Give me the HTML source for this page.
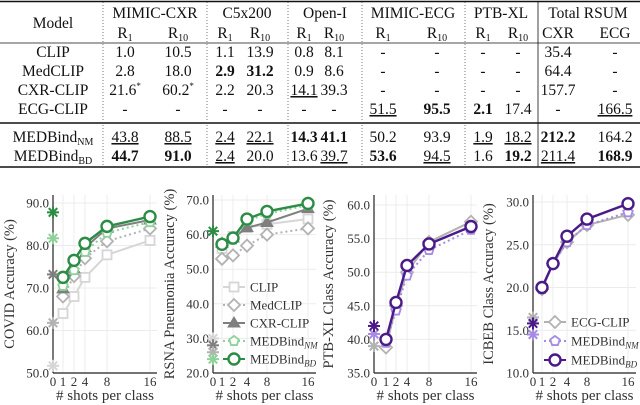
<!DOCTYPE html>
<html><head><meta charset="utf-8"><style>
body{margin:0;background:#fff}
svg{display:block;font-family:"Liberation Serif",serif}
.u{text-decoration:underline}
</style></head><body>
<svg id="fig" width="640" height="405" viewBox="0 0 640 405" xmlns="http://www.w3.org/2000/svg">
<g id="table" font-size="15.5" text-anchor="middle" fill="#111"></g>
<g id="charts"></g>
</svg>
<script>
const NS="http://www.w3.org/2000/svg";
function mk(p,t,a){const e=document.createElementNS(NS,t);for(const k in a)e.setAttribute(k,a[k]);p.appendChild(e);return e;}
// ---- table ----
const T=document.getElementById('table');
const colX=[53,125,178,225,260,304,334,383,437,483,518,558,615];
const rowY=[57,76,95,114,142,161];
const modelNames=[["CLIP",""],["MedCLIP",""],["CXR-CLIP",""],["ECG-CLIP",""],["MEDBind","NM"],["MEDBind","BD"]];
const cells=[
["1.0","10.5","1.1","13.9","0.8","8.1","-","-","-","-","35.4","-"],
["2.8","18.0","*2.9","*31.2","0.9","8.6","-","-","-","-","64.4","-"],
["21.6^","60.2^","2.2","20.3","_14.1","39.3","-","-","-","-","157.7","-"],
["-","-","-","-","-","-","_51.5","*95.5","*2.1","17.4","-","_166.5"],
["_43.8","_88.5","_2.4","_22.1","*14.3","*41.1","50.2","93.9","_1.9","_18.2","*212.2","164.2"],
["*44.7","*91.0","_2.4","20.0","13.6","_39.7","*53.6","_94.5","1.6","*19.2","_211.4","*168.9"]];
mk(T,'line',{x1:0,x2:640,y1:1.5,y2:1.5,stroke:'#111','stroke-width':1.5});
mk(T,'line',{x1:0,x2:640,y1:43,y2:43,stroke:'#111','stroke-width':0.8});
mk(T,'line',{x1:0,x2:640,y1:123,y2:123,stroke:'#111','stroke-width':1.5});
mk(T,'line',{x1:0,x2:640,y1:167,y2:167,stroke:'#111','stroke-width':1.5});
[103,207,288,362,465].forEach(x=>mk(T,'line',{x1:x,x2:x,y1:2,y2:167,stroke:'#555','stroke-width':0.8,'stroke-dasharray':'1,2'}));
mk(T,'line',{x1:538,x2:538,y1:2,y2:167,stroke:'#111','stroke-width':0.8});
let h=mk(T,'text',{x:53,y:28});h.textContent="Model";
[["MIMIC-CXR",155],["C5x200",247],["Open-I",325],["MIMIC-ECG",413],["PTB-XL",501],["Total RSUM",588]].forEach(g=>{const t=mk(T,'text',{x:g[1],y:18});t.textContent=g[0];

});
for(let i=1;i<=10;i++){const t=mk(T,'text',{x:colX[i],y:38});t.innerHTML='R<tspan font-size="10" dy="3">'+(i%2?'1':'10')+'</tspan>';}
const t1=mk(T,'text',{x:558,y:38});t1.textContent='CXR';const t2=mk(T,'text',{x:615,y:38});t2.textContent='ECG';
rowY.forEach((y,r)=>{
 const m=mk(T,'text',{x:53,y:y});m.innerHTML=modelNames[r][0]+(modelNames[r][1]?'<tspan font-size="10" dy="3">'+modelNames[r][1]+'</tspan>':'');
 
 
 cells[r].forEach((c,j)=>{let s=c,a={x:colX[j+1],y:y};
  const t=mk(T,'text',a);
  if(s[0]=='*'){s=s.slice(1);t.setAttribute('font-weight','bold');}
  if(s[0]=='_'){s=s.slice(1);t.setAttribute('class','u');}
  if(s.endsWith('^')){s=s.slice(0,-1);t.innerHTML=s+'<tspan font-size="9" dy="-6">*</tspan>';}else t.textContent=s;
 });
});
// ---- chart data ----
const shots=[1,2,4,8,16];
const xTicks=[0,1,2,4,8,16];
// COVID
const covidZero=[51.7,61.8,73.2,81.7,87.8];
const covidCLIP=[64,68,72.5,77.8,81.2];
const covidMed=[68,72.8,77,81,84];
const covidCXR=[69.8,74.5,79.5,84,86];
const covidNM=[70.5,74.2,78.5,83,85.5];
const covidBD=[72.5,76.5,80.5,84.5,86.8];
const covidTicks=[50,60,70,80,90];
// RSNA
const rsnaZero=[30,28,26,24,61];
const rsnaCLIP=[56,59.5,62,63,64.5];
const rsnaMed=[53,54,56.8,60,61.8];
const rsnaCXR=[57.5,59,62,63.5,67.5];
const rsnaNM=[57,58.5,64,66,68.5];
const rsnaBD=[57.2,59,64.5,66.7,69];
const rsnaTicks=[20,30,40,50,60,70];
// PTB-XL
const ptbZero=[39,40.8,42];
const ptbECG=[38.8,45,50,54.5,57.5];
const ptbNM=[39.5,44.3,49.5,53.3,56.3];
const ptbBD=[40,45.5,51,54.2,56.8];
const ptbTicks=[35,40,45,50,55,60];
// ICBEB
const icbZero=[16.5,14.5,15.8];
const icbECG=[19.8,22.8,25.3,27.3,28.5];
const icbNM=[19.8,22.8,25.3,27.3,28.8];
const icbBD=[20,22.8,26,28,29.8];
const icbTicks=[10,15,20,25,30];

const C={clip:'#d6d6d6',med:'#b2b2b2',cxr:'#7f7f7f',nm:'#8fd19a',bd:'#2c8c45',pnm:'#a78be3',pbd:'#4a1a88',ecg:'#b2b2b2'};
const G=document.getElementById('charts');
function marker(g,type,x,y,col){
 const sw=1.8;let e;
 if(type=='sq')e=mk(g,'rect',{x:x-4.5,y:y-4.5,width:9,height:9,fill:'#fff',stroke:col,'stroke-width':sw});
 else if(type=='dia')e=mk(g,'polygon',{points:`${x},${y-6} ${x+6},${y} ${x},${y+6} ${x-6},${y}`,fill:'#fff',stroke:col,'stroke-width':sw});
 else if(type=='tri')e=mk(g,'polygon',{points:`${x},${y-6} ${x+6},${y+4} ${x-6},${y+4}`,fill:col,stroke:col,'stroke-width':1});
 else if(type=='pent'){let p=[];for(let k=0;k<5;k++){const a=-Math.PI/2+k*2*Math.PI/5;p.push((x+5*Math.cos(a))+','+(y+5*Math.sin(a)));}e=mk(g,'polygon',{points:p.join(' '),fill:'#fff',stroke:col,'stroke-width':sw});}
 else if(type=='circ')e=mk(g,'circle',{cx:x,cy:y,r:5.5,fill:'#fff',stroke:col,'stroke-width':2.4});
 else if(type=='star'){e=mk(g,'g',{stroke:col,'stroke-width':2});for(let k=0;k<4;k++){const a=k*Math.PI/4;mk(e,'line',{x1:x-6*Math.cos(a),y1:y-6*Math.sin(a),x2:x+6*Math.cos(a),y2:y+6*Math.sin(a)});}}
 return e;
}
function panel(cfg){
 const g=mk(G,'g',{});
 
 
 const yS=v=>cfg.y0px+(v-cfg.ymin)/(cfg.ymax-cfg.ymin)*(cfg.y1px-cfg.y0px);
 const xS=v=>{const i=xTicks.indexOf(v);return cfg.xpx[i];};
 cfg.yticks.forEach(v=>{mk(g,'line',{x1:cfg.ax,x2:cfg.right,y1:yS(v),y2:yS(v),stroke:'#ececec','stroke-width':1});
  const t=mk(g,'text',{x:cfg.ax-4,y:yS(v)+4.5,'font-size':13,'text-anchor':'end',fill:'#333'});t.textContent=v.toFixed(1);
  
  });
 xTicks.forEach(v=>{if(v>0)mk(g,'line',{x1:xS(v),x2:xS(v),y1:cfg.top,y2:cfg.y0px,stroke:'#ececec','stroke-width':1});
  const t=mk(g,'text',{x:xS(v),y:cfg.y0px+13,'font-size':13,'text-anchor':'middle',fill:'#333'});t.textContent=v;
  
  });
 mk(g,'line',{x1:cfg.ax,x2:cfg.ax,y1:cfg.top,y2:cfg.y0px,stroke:'#222','stroke-width':1.2});
 mk(g,'line',{x1:cfg.ax,x2:cfg.right,y1:cfg.y0px,y2:cfg.y0px,stroke:'#222','stroke-width':1.2});
 const xl=mk(g,'text',{x:(cfg.ax+cfg.right)/2,y:400,'font-size':15,'text-anchor':'middle',fill:'#333'});xl.textContent='# shots per class';
 
 
 const yc=(cfg.top+cfg.y0px)/2;
 const yl=mk(g,'text',{x:cfg.ylx,y:yc,'font-size':14.5,'text-anchor':'middle',fill:'#333',transform:`rotate(-90 ${cfg.ylx} ${yc})`});yl.textContent=cfg.ylabel;
 
 
 cfg.series.forEach(s=>{
  const pts=shots.map((v,i)=>[xS(v),yS(s.data[i])]);
  const l=mk(g,'polyline',{points:pts.map(p=>p.join(',')).join(' '),fill:'none',stroke:s.col,'stroke-width':s.w||2,'stroke-dasharray':s.dash||''});
  
  
  pts.forEach(p=>{const m=marker(g,s.m,p[0],p[1],s.col);
   
   });
 });
 cfg.zero.forEach((v,i)=>{const m=marker(g,'star',cfg.ax,yS(v),cfg.zeroCols[i]);
  
  });
 if(cfg.legend){cfg.legend.items.forEach((it,i)=>{const y=cfg.legend.y+i*cfg.legend.dy,x=cfg.legend.x;
  const lg=mk(g,'g',{});
  
  
  mk(lg,'line',{x1:x,x2:x+22,y1:y,y2:y,stroke:it.col,'stroke-width':2,'stroke-dasharray':it.dash||''});
  marker(lg,it.m,x+11,y,it.col);
  const t=mk(lg,'text',{x:x+27,y:y+4.5,'font-size':13,fill:'#333'});t.innerHTML=it.label;});}
}
const sub=s=>'MEDBind<tspan font-size="9" font-style="italic" dy="3">'+s+'</tspan>';
const cxrSeries=(a,b,c,d,e)=>[
 {key:'clip',data:a,col:C.clip,m:'sq'},{key:'medclip',data:b,col:C.med,m:'dia',dash:'2,3'},
 {key:'cxrclip',data:c,col:C.cxr,m:'tri'},{key:'medbind-nm',data:d,col:C.nm,m:'pent',dash:'2,3'},{key:'medbind-bd',data:e,col:C.bd,m:'circ',w:2.4}];
panel({name:'covid-chart',ax:53,right:157,top:195,y0px:373,y1px:203,ymin:50,ymax:90,xpx:[53,63,74,85,107,150],yticks:covidTicks,ylabel:'COVID  Accuracy (%)',ylx:14,
 series:cxrSeries(covidCLIP,covidMed,covidCXR,covidNM,covidBD),zero:covidZero,zeroCols:[C.clip,C.med,C.cxr,C.nm,C.bd]});
panel({name:'rsna-chart',ax:213,right:316,top:195,y0px:373,y1px:200,ymin:20,ymax:70,xpx:[213,222,233,247,267,308],yticks:rsnaTicks,ylabel:'RSNA Pneumonia Accuracy (%)',ylx:174,
 series:cxrSeries(rsnaCLIP,rsnaMed,rsnaCXR,rsnaNM,rsnaBD),zero:rsnaZero,zeroCols:[C.clip,C.cxr,C.med,C.nm,C.bd],
 legend:{x:223,y:287,dy:18,items:[{label:'CLIP',col:C.clip,m:'sq'},{label:'MedCLIP',col:C.med,m:'dia',dash:'2,3'},{label:'CXR-CLIP',col:C.cxr,m:'tri'},{label:sub('NM'),col:C.nm,m:'pent',dash:'2,3'},{label:sub('BD'),col:C.bd,m:'circ'}]}});
const ecgSeries=(a,b,c)=>[{key:'ecgclip',data:a,col:C.ecg,m:'dia'},{key:'medbind-nm',data:b,col:C.pnm,m:'pent',dash:'2,3'},{key:'medbind-bd',data:c,col:C.pbd,m:'circ',w:2.4}];
panel({name:'ptbxl-chart',ax:374,right:477,top:195,y0px:373,y1px:205,ymin:35,ymax:60,xpx:[374,386,396,407,429,471],yticks:ptbTicks,ylabel:'PTB-XL Class Accuracy (%)',ylx:333,
 series:ecgSeries(ptbECG,ptbNM,ptbBD),zero:ptbZero,zeroCols:[C.ecg,C.pnm,C.pbd]});
panel({name:'icbeb-chart',ax:533,right:636,top:195,y0px:373,y1px:202,ymin:10,ymax:30,xpx:[533,542,553,567,587,628],yticks:icbTicks,ylabel:'ICBEB Class Accuracy (%)',ylx:493,
 series:ecgSeries(icbECG,icbNM,icbBD),zero:icbZero,zeroCols:[C.ecg,C.pnm,C.pbd],
 legend:{x:544,y:322,dy:19,items:[{label:'ECG-CLIP',col:C.ecg,m:'dia'},{label:sub('NM'),col:C.pnm,m:'pent',dash:'2,3'},{label:sub('BD'),col:C.pbd,m:'circ'}]}});
</script>
</body></html>
